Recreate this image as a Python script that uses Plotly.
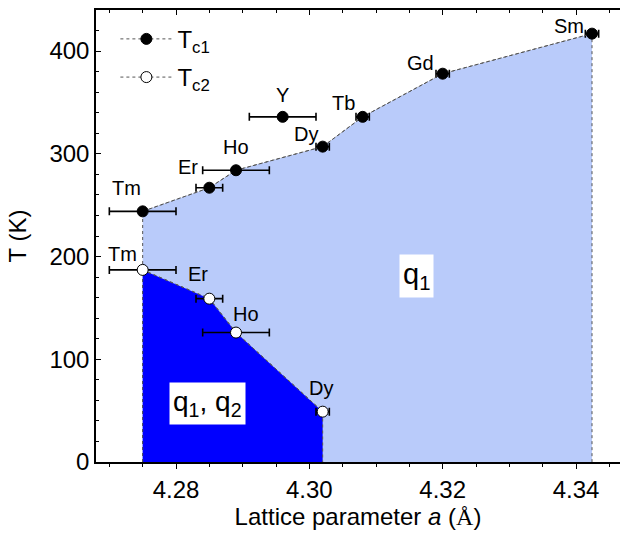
import plotly.graph_objects as go

# ---- data ----
tc1_names = ["Tm", "Er", "Ho", "Dy", "Tb", "Gd", "Sm"]
tc1_a = [4.275, 4.285, 4.289, 4.302, 4.308, 4.320, 4.3424]
tc1_T = [244, 267, 284, 307, 336, 378, 417]
tc1_aerr = [0.005, 0.002, 0.005, 0.001, 0.001, 0.001, 0.001]

y_name = ["Y"]
y_a = [4.296]
y_T = [336]
y_aerr = [0.005]

tc2_names = ["Tm", "Er", "Ho", "Dy"]
tc2_a = [4.275, 4.285, 4.289, 4.302]
tc2_T = [187, 159, 126, 49]
tc2_aerr = [0.005, 0.002, 0.005, 0.001]

x_ticks = [4.28, 4.30, 4.32, 4.34]
y_ticks = [0, 100, 200, 300, 400]

# ---- styles (label pixel offsets) ----
tc1_off = [(-16, 23), (-21, 21), (0, 23), (-17, 13), (-19, 14), (-22, 11), (-23, 8)]
y_off = [(0, 22)]
tc2_off = [(-20, 16), (-11, 25), (10, 19), (-2, 24)]

FONT = "Liberation Sans, Arial, sans-serif"
LIGHT = "#b9cbfa"
DARK = "#0000ff"
DOT = "#555555"

fig = go.Figure()

# light blue region (q1)
fig.add_trace(go.Scatter(
    x=[tc1_a[0]] + tc1_a + [tc1_a[-1]],
    y=[0] + tc1_T + [0],
    fill="toself", fillcolor=LIGHT, mode="lines",
    line=dict(color=DOT, width=1, dash="dot"),
    showlegend=False, hoverinfo="skip"))

# dark blue region (q1, q2)
fig.add_trace(go.Scatter(
    x=[tc2_a[0]] + tc2_a + [tc2_a[-1]],
    y=[0] + tc2_T + [0],
    fill="toself", fillcolor=DARK, mode="lines",
    line=dict(color=DOT, width=1, dash="dot"),
    showlegend=False, hoverinfo="skip"))

err_style = dict(type="data", thickness=1.6, width=4, color="black")

fig.add_trace(go.Scatter(
    x=tc1_a, y=tc1_T, mode="lines+markers", name="T<sub>c1</sub>",
    legendgroup="c1",
    line=dict(color=DOT, width=1, dash="dot"),
    marker=dict(size=11, color="black", line=dict(color="black", width=1)),
    error_x=dict(array=tc1_aerr, **err_style)))

fig.add_trace(go.Scatter(
    x=y_a, y=y_T, mode="markers", showlegend=False, legendgroup="c1",
    marker=dict(size=11, color="black", line=dict(color="black", width=1)),
    error_x=dict(array=y_aerr, **err_style)))

fig.add_trace(go.Scatter(
    x=tc2_a, y=tc2_T, mode="lines+markers", name="T<sub>c2</sub>",
    legendgroup="c2",
    line=dict(color=DOT, width=1, dash="dot"),
    marker=dict(size=11, color="white", line=dict(color="black", width=1)),
    error_x=dict(array=tc2_aerr, **err_style)))

annotations = []
for names, xs, ys, offs in [(tc1_names, tc1_a, tc1_T, tc1_off),
                            (y_name, y_a, y_T, y_off),
                            (tc2_names, tc2_a, tc2_T, tc2_off)]:
    for n, x, y, (dx, dy) in zip(names, xs, ys, offs):
        annotations.append(dict(x=x, y=y, xref="x", yref="y", text=n,
                                showarrow=False, xshift=dx, yshift=dy,
                                font=dict(family=FONT, size=20, color="black")))

annotations.append(dict(x=4.316, y=181, xref="x", yref="y",
                        text="q<sub>1</sub>", showarrow=False,
                        bgcolor="white", borderpad=3,
                        font=dict(family=FONT, size=29, color="black")))
annotations.append(dict(x=4.2847, y=57, xref="x", yref="y",
                        text="q<sub>1</sub>, q<sub>2</sub>", showarrow=False,
                        bgcolor="white", borderpad=3,
                        font=dict(family=FONT, size=28, color="black")))

fig.update_layout(
    width=620, height=533,
    margin=dict(l=96, r=0, t=10, b=71),
    plot_bgcolor="white", paper_bgcolor="white",
    font=dict(family=FONT, size=24, color="black"),
    annotations=annotations,
    showlegend=True,
    legend=dict(x=0.037, y=0.985, xanchor="left", yanchor="top",
                bgcolor="rgba(0,0,0,0)", font=dict(family=FONT, size=24),
                itemwidth=52, tracegroupgap=4),
    xaxis=dict(range=[4.268, 4.3466], tickvals=x_ticks,
               ticktext=[f"{v:.2f}" for v in x_ticks], automargin=False,
               ticks="outside", ticklen=5, tickwidth=1.2, tickcolor="black",
               minor=dict(dtick=0.005, tick0=4.27, ticks="outside", ticklen=3,
                          tickcolor="black", tickwidth=1.2),
               showline=True, linecolor="black", linewidth=1.5,
               showgrid=False, zeroline=False,
               title=dict(text="Lattice parameter <i>a</i> (<span style='font-family:Liberation Serif'>Å</span>)",
                          font=dict(size=24), standoff=6)),
    xaxis2=dict(overlaying="x", matches="x", side="top", showticklabels=False,
                tickvals=x_ticks, ticks="inside", ticklen=5, tickwidth=1.2,
                tickcolor="black", automargin=False,
                minor=dict(dtick=0.005, tick0=4.27, ticks="inside", ticklen=3,
                           tickcolor="black", tickwidth=1.2),
                showline=True, linecolor="black", linewidth=1.5,
                showgrid=False, zeroline=False),
    yaxis=dict(range=[0, 440], tickvals=y_ticks, automargin=False,
               ticks="inside", ticklen=5, tickwidth=1.2, tickcolor="black",
               minor=dict(dtick=20, ticks="inside", ticklen=3,
                          tickcolor="black", tickwidth=1.2),
               showline=True, linecolor="black", linewidth=1.5,
               showgrid=False, zeroline=False,
               title=dict(text="T (K)", font=dict(size=24), standoff=16)),
)

# dummy trace to activate the top axis
fig.add_trace(go.Scatter(x=[tc1_a[0]], y=[0], xaxis="x2", mode="markers",
                         marker=dict(opacity=0), showlegend=False,
                         hoverinfo="skip"))

fig.write_html("out.html",
               config={"displayModeBar": False},
               post_script="document.body.style.margin='0';")
